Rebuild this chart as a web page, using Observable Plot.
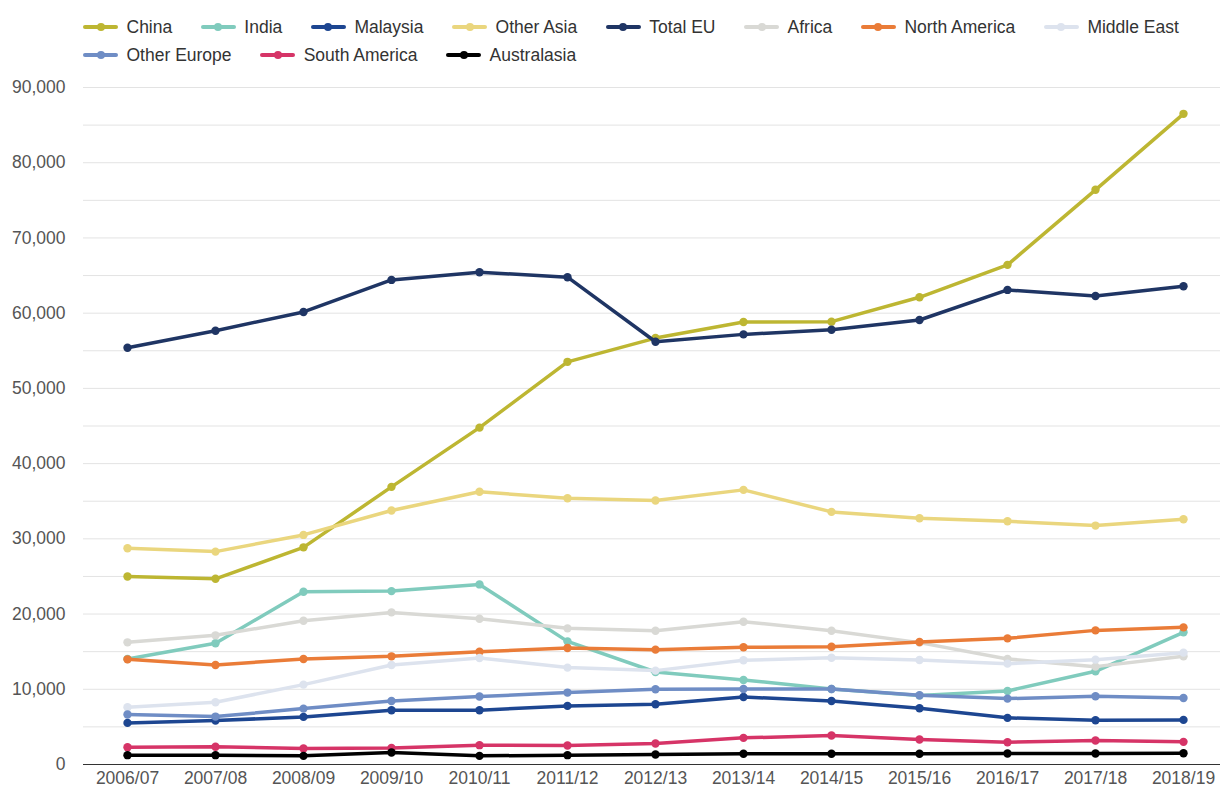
<!DOCTYPE html>
<html>
<head>
<meta charset="utf-8">
<script src="https://cdn.jsdelivr.net/npm/d3@7"></script>
<script src="https://cdn.jsdelivr.net/npm/@observablehq/plot@0.6"></script>
<style>
  html, body { margin: 0; padding: 0; background: #fff; }
  body { width: 1220px; height: 792px; overflow: hidden; font-family: "Liberation Sans", Arial, sans-serif; }
  #legend { box-sizing: border-box; height: 70px; padding: 13px 0 0 83px; display: flex; flex-wrap: wrap; column-gap: 28.6px; align-content: flex-start; width: 1220px; }
  .item { display: flex; align-items: center; height: 28px; font-size: 17.5px; color: #333; white-space: nowrap; }
  .sw { position: relative; width: 35px; height: 4px; margin-right: 8.5px; border-radius: 2px; }
  .sw::after { content: ""; position: absolute; left: 13.5px; top: -2px; width: 8px; height: 8px; border-radius: 50%; background: inherit; }
  #chart svg { display: block; }
</style>
</head>
<body>
<div id="legend"></div>
<div id="chart"></div>
<script>
const years = ["2006/07","2007/08","2008/09","2009/10","2010/11","2011/12","2012/13","2013/14","2014/15","2015/16","2016/17","2017/18","2018/19"];

const seriesNames = ["China","India","Malaysia","Other Asia","Total EU","Africa","North America","Middle East","Other Europe","South America","Australasia"];
const seriesColors = ["#bdb632","#80cbbd","#1d4691","#ead67e","#1f3564","#d9d9d5","#ea7c38","#dde3ee","#6f8dc5","#d63467","#000000"];

const china        = [25000, 24690, 28870, 36910, 44780, 53530, 56690, 58820, 58870, 62110, 66420, 76400, 86500];
const india        = [14030, 16110, 22970, 23050, 23940, 16370, 12300, 11240, 10040, 9160, 9780, 12390, 17570];
const malaysia     = [5530, 5840, 6330, 7210, 7210, 7790, 8010, 8980, 8450, 7480, 6200, 5890, 5930];
const otherAsia    = [28740, 28300, 30520, 33760, 36250, 35400, 35090, 36510, 33580, 32740, 32340, 31760, 32600];
const totalEU      = [55400, 57670, 60160, 64420, 65440, 64780, 56200, 57180, 57800, 59090, 63090, 62290, 63580];
const africa       = [16240, 17170, 19120, 20220, 19380, 18100, 17790, 18980, 17790, 16200, 14030, 13010, 14380];
const northAmerica = [13980, 13230, 14030, 14380, 15000, 15490, 15270, 15580, 15660, 16280, 16770, 17830, 18230];
const middleEast   = [7610, 8270, 10620, 13230, 14160, 12880, 12480, 13850, 14200, 13890, 13410, 13940, 14870];
const otherEurope  = [6640, 6370, 7430, 8450, 9030, 9560, 10000, 10040, 10040, 9200, 8760, 9070, 8850];
const southAmerica = [2300, 2350, 2120, 2210, 2570, 2520, 2790, 3540, 3850, 3320, 2960, 3190, 3010];
const australasia  = [1240, 1240, 1150, 1590, 1150, 1240, 1330, 1420, 1420, 1420, 1460, 1460, 1500];

const seriesValues = [china, india, malaysia, otherAsia, totalEU, africa, northAmerica, middleEast, otherEurope, southAmerica, australasia];

const yTicks = [0, 10000, 20000, 30000, 40000, 50000, 60000, 70000, 80000, 90000];
const gridTicks = [0, 5000, 10000, 15000, 20000, 25000, 30000, 35000, 40000, 45000, 50000, 55000, 60000, 65000, 70000, 75000, 80000, 85000, 90000];

// Legend
const legend = document.getElementById("legend");
seriesNames.forEach((name, i) => {
  const item = document.createElement("div");
  item.className = "item";
  const sw = document.createElement("span");
  sw.className = "sw";
  sw.style.background = seriesColors[i];
  item.appendChild(sw);
  const t = document.createElement("span");
  t.textContent = name;
  item.appendChild(t);
  legend.appendChild(item);
});

// Data table
const rows = [];
seriesNames.forEach((name, i) => {
  years.forEach((yr, j) => rows.push({series: name, year: yr, value: seriesValues[i][j]}));
});

const marks = [
  Plot.ruleY(gridTicks, {stroke: "#e3e3e3", strokeWidth: 1}),
  Plot.ruleY([0], {stroke: "#333", strokeWidth: 1}),
  Plot.axisY({ticks: yTicks, tickSize: 0, tickPadding: 18, tickFormat: d3.format(","), label: null, fill: "#555"}),
  Plot.axisX({tickSize: 0, tickPadding: 7, label: null, fill: "#555"})
];
seriesNames.forEach((name) => {
  const d = rows.filter(r => r.series === name);
  marks.push(Plot.lineY(d, {x: "year", y: "value", stroke: "series", strokeWidth: 3.5, strokeLinejoin: "round", strokeLinecap: "round"}));
  marks.push(Plot.dot(d, {x: "year", y: "value", fill: "series", r: 4.2}));
});

const chart = Plot.plot({
  width: 1220,
  height: 722,
  marginTop: 17,
  marginBottom: 28,
  marginLeft: 83,
  marginRight: 0,
  style: {fontFamily: "'Liberation Sans', Arial, sans-serif", fontSize: "17.5px", background: "#fff", overflow: "visible"},
  x: {type: "point", domain: years, range: [127, 1183], padding: 0},
  y: {domain: [0, 90000]},
  color: {domain: seriesNames, range: seriesColors},
  marks
});
document.getElementById("chart").appendChild(chart);
</script>
</body>
</html>
